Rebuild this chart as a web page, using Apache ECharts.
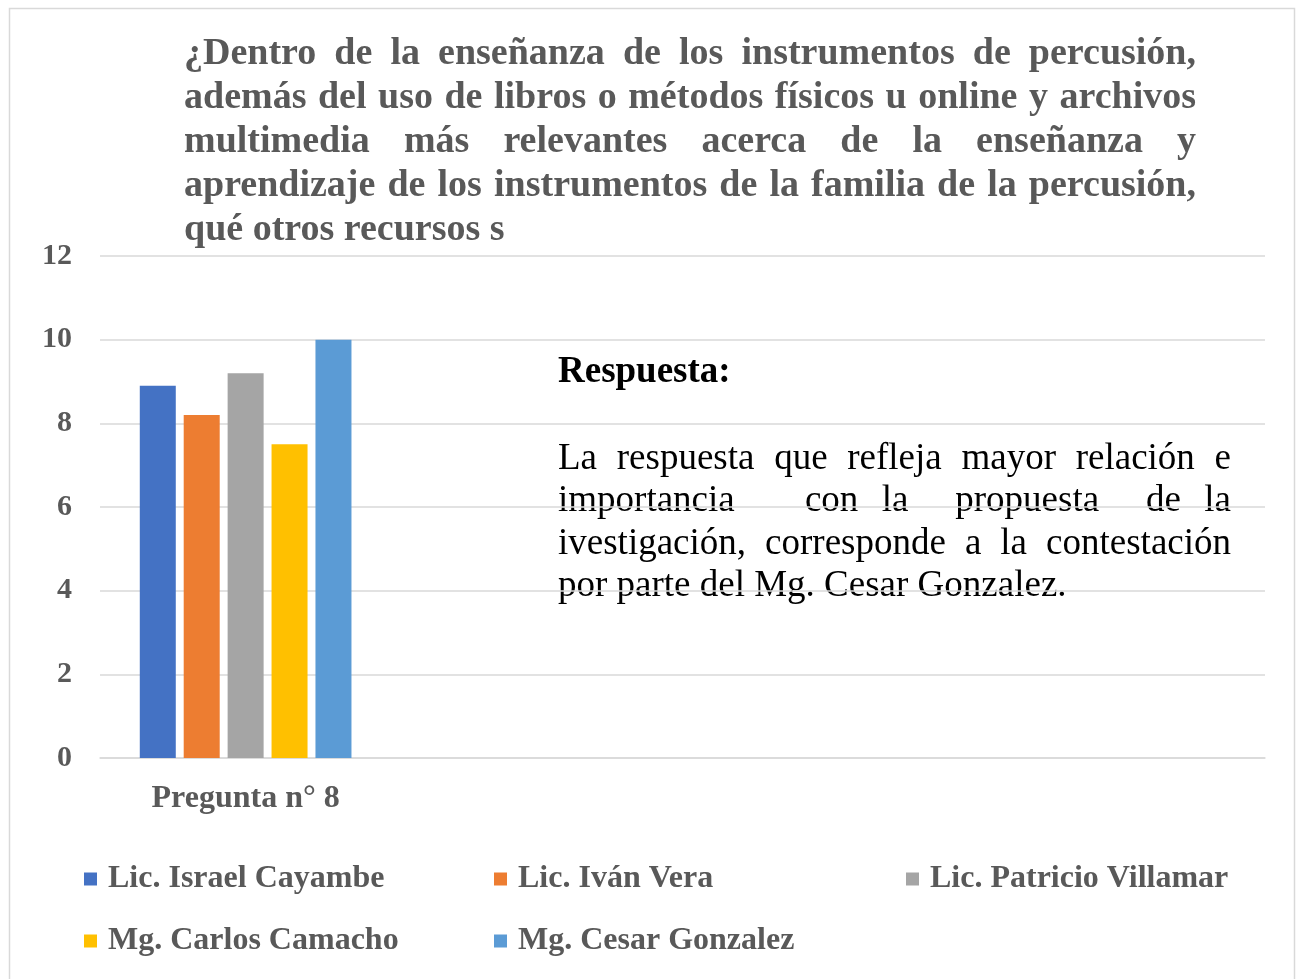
<!DOCTYPE html>
<html>
<head>
<meta charset="utf-8">
<script src="https://cdn.jsdelivr.net/npm/echarts@6/dist/echarts.min.js"></script>
<style>
  html, body { margin: 0; padding: 0; background: #fff; }
  #chart { width: 1298px; height: 979px; }
</style>
</head>
<body>
<div id="chart"></div>
<script>
// categories (only the first one holds data, the rest are empty slots)
const categories = ['Pregunta n° 8', '', '', ''];

const seriesNames = [
    'Lic. Israel Cayambe',
    'Lic. Iván Vera',
    'Lic. Patricio Villamar',
    'Mg. Carlos Camacho',
    'Mg. Cesar Gonzalez'
];
const seriesValues = [8.9, 8.2, 9.2, 7.5, 10];
const seriesColors = ['#4472c4', '#ed7d31', '#a5a5a5', '#ffc000', '#5b9bd5'];

const titleLines = [
    '¿Dentro de la enseñanza de los instrumentos de percusión,',
    'además del uso de libros o métodos físicos u online y archivos',
    'multimedia más relevantes acerca de la enseñanza y',
    'aprendizaje de los instrumentos de la familia de la percusión,',
    'qué otros recursos s'
];

const answerTitle = 'Respuesta:';
// the original text box has a few doubled spaces on the second line
const answerLines = [
    'La respuesta que refleja mayor relación e',
    'importancia   con la  propuesta  de la',
    'ivestigación, corresponde a la contestación',
    'por parte del Mg. Cesar Gonzalez.'
];

const serif = '"Liberation Serif", "Times New Roman", serif';
const grey = '#595959';

// measure words so lines can be justified like the original text box
const measureCtx = document.createElement('canvas').getContext('2d');

const justifyLines = (lines, opts) => {
    const { left, right, top, lineHeight, size, weight, color } = opts;
    const font = `${weight} ${size}px ${serif}`;
    measureCtx.font = font;
    const elements = [];
    lines.forEach((line, i) => {
        const y = top + i * lineHeight;
        const words = line.split(' ');
        // last line of a paragraph stays left aligned
        if (i === lines.length - 1 || words.length < 2) {
            elements.push({
                type: 'text', x: left, y: y, silent: true,
                style: { text: line, font: font, fill: color, verticalAlign: 'middle', align: 'left' }
            });
            return;
        }
        // every space character gets the same stretched width
        const widths = words.map(w => (w ? measureCtx.measureText(w).width : 0));
        const total = widths.reduce((a, b) => a + b, 0);
        const gap = (right - left - total) / (words.length - 1);
        let x = left;
        words.forEach((w, j) => {
            if (w) {
                elements.push({
                    type: 'text', x: x, y: y, silent: true,
                    style: { text: w, font: font, fill: color, verticalAlign: 'middle', align: 'left' }
                });
            }
            x += widths[j] + gap;
        });
    });
    return elements;
};

// legend placement: one legend per item so columns line up
const legendPos = [[84, 879], [494, 879], [906, 879], [84, 941], [494, 941]];

const myChart = echarts.init(document.querySelector('#chart'));

const graphics = [
    {
        type: 'rect', left: 7, top: 6, silent: true,
        shape: { width: 1285, height: 990 },
        style: { fill: 'none', stroke: '#d9d9d9', lineWidth: 1.5 }
    },
    ...justifyLines(titleLines, {
        left: 184, right: 1196, top: 54, lineHeight: 44,
        size: 38, weight: 'bold', color: grey
    }),
    {
        type: 'text', x: 558, y: 372, silent: true,
        style: { text: answerTitle, font: `bold 37px ${serif}`, fill: '#000', verticalAlign: 'middle' }
    },
    ...justifyLines(answerLines, {
        left: 558, right: 1231, top: 459, lineHeight: 42.5,
        size: 37, weight: 'normal', color: '#000'
    })
];

const options = {
    animation: false,
    grid: { left: 100, right: 33, top: 256, bottom: 221 },
    legend: seriesNames.map((name, i) => ({
        data: [name],
        left: legendPos[i][0],
        top: legendPos[i][1] - 16,
        padding: 0,
        icon: 'rect',
        itemWidth: 13,
        itemHeight: 13,
        textStyle: {
            fontFamily: serif, fontWeight: 'bold', fontSize: 32, color: grey,
            padding: [0, 0, 0, 6], lineHeight: 32
        }
    })),
    xAxis: {
        type: 'category',
        data: categories,
        axisTick: { show: false },
        axisLine: { lineStyle: { color: '#d9d9d9', width: 1.5 } },
        axisLabel: {
            margin: 25, fontFamily: serif, fontWeight: 'bold', fontSize: 32, color: grey
        }
    },
    yAxis: {
        type: 'value',
        min: 0, max: 12, interval: 2,
        axisLine: { show: false },
        axisTick: { show: false },
        splitLine: { lineStyle: { color: '#d9d9d9', width: 1.5 } },
        axisLabel: {
            margin: 28, fontFamily: serif, fontWeight: 'bold', fontSize: 30, color: grey
        }
    },
    series: seriesNames.map((name, i) => ({
        name,
        type: 'bar',
        data: categories.map((c, j) => (j === 0 ? seriesValues[i] : null)),
        barWidth: 36,
        barGap: '22%',
        itemStyle: { color: seriesColors[i] }
    })),
    graphic: graphics
};

myChart.setOption(options);
</script>
</body>
</html>
